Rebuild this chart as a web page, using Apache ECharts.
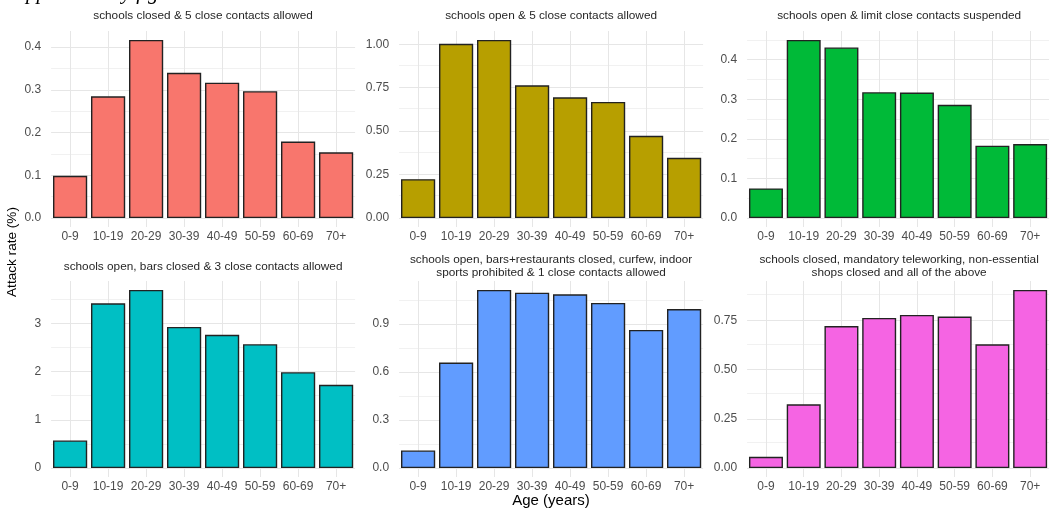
<!DOCTYPE html>
<html>
<head>
<meta charset="utf-8">
<script src="https://cdn.jsdelivr.net/npm/echarts@6/dist/echarts.min.js"></script>
<style>
  html, body { margin: 0; padding: 0; background: #ffffff; }
  #chart { width: 1049px; height: 510px; }
</style>
</head>
<body>
<div id="chart"></div>
<script>
// Age groups shared by every panel
const ageGroups = ['0-9', '10-19', '20-29', '30-39', '40-49', '50-59', '60-69', '70+'];

// Panel headings (one per intervention scenario)
const panelTitles = [
  'schools closed & 5 close contacts allowed',
  'schools open & 5 close contacts allowed',
  'schools open & limit close contacts suspended',
  'schools open, bars closed & 3 close contacts allowed',
  'schools open, bars+restaurants closed, curfew, indoor\nsports prohibited & 1 close contacts allowed',
  'schools closed, mandatory teleworking, non-essential\nshops closed and all of the above'
];

// Attack rate (%) per age group, one array per scenario
const rateClosed5 = [0.099, 0.285, 0.417, 0.340, 0.317, 0.297, 0.179, 0.154];
const rateOpen5 = [0.224, 1.003, 1.025, 0.764, 0.695, 0.668, 0.473, 0.347];
const rateOpenNoLimit = [0.075, 0.450, 0.431, 0.318, 0.317, 0.286, 0.183, 0.187];
const rateBarsClosed3 = [0.572, 3.414, 3.690, 2.924, 2.759, 2.566, 1.986, 1.724];
const rateCurfew1 = [0.110, 0.659, 1.112, 1.095, 1.085, 1.031, 0.862, 0.993];
const rateLockdown = [0.057, 0.324, 0.721, 0.762, 0.777, 0.769, 0.628, 0.904];

// Y-axis tick values and their printed labels
const ticksClosed5 = [0, 0.1, 0.2, 0.3, 0.4];
const labelsClosed5 = ['0.0', '0.1', '0.2', '0.3', '0.4'];
const ticksOpen5 = [0, 0.25, 0.5, 0.75, 1.0];
const labelsOpen5 = ['0.00', '0.25', '0.50', '0.75', '1.00'];
const ticksOpenNoLimit = [0, 0.1, 0.2, 0.3, 0.4];
const labelsOpenNoLimit = ['0.0', '0.1', '0.2', '0.3', '0.4'];
const ticksBarsClosed3 = [0, 1, 2, 3];
const labelsBarsClosed3 = ['0', '1', '2', '3'];
const ticksCurfew1 = [0, 0.3, 0.6, 0.9];
const labelsCurfew1 = ['0.0', '0.3', '0.6', '0.9'];
const ticksLockdown = [0, 0.25, 0.5, 0.75];
const labelsLockdown = ['0.00', '0.25', '0.50', '0.75'];

const panelValues = [rateClosed5, rateOpen5, rateOpenNoLimit, rateBarsClosed3, rateCurfew1, rateLockdown];
const panelTicks = [ticksClosed5, ticksOpen5, ticksOpenNoLimit, ticksBarsClosed3, ticksCurfew1, ticksLockdown];
const panelTickLabels = [labelsClosed5, labelsOpen5, labelsOpenNoLimit, labelsBarsClosed3, labelsCurfew1, labelsLockdown];
const panelColors = ['#F8766D', '#B79F00', '#00BA38', '#00BFC4', '#619CFF', '#F564E3'];

// Facet layout
const COL_LEFT = [51.1, 399.1, 747.1];
const GRID_W = 304;
const ROW_TOP = [31, 281];
const GRID_H = 196;
const TITLE_Y = [15.5, 266.5];

const FONT = '"Liberation Sans", Arial, Helvetica, sans-serif';
const MAJOR_GRID = '#e6e6e6';
const MINOR_GRID = '#f1f1f1';

const grids = [], xAxes = [], yAxes = [], series = [], graphics = [];

panelValues.forEach(function (values, i) {
  const col = i % 3, row = Math.floor(i / 3);
  const peak = Math.max.apply(null, values);
  const yMin = -0.05 * peak, yMax = 1.05 * peak;
  const ticks = panelTicks[i], labels = panelTickLabels[i];
  const step = ticks[1] - ticks[0];

  // minor breaks halfway between (and just past) the major ones
  const minors = [];
  ticks.forEach(function (t) {
    const m = t + step / 2;
    if (m < yMax) minors.push(m);
  });

  grids.push({ left: COL_LEFT[col], top: ROW_TOP[row], width: GRID_W, height: GRID_H });

  xAxes.push({
    type: 'category', gridIndex: i, data: ageGroups,
    axisLine: { show: false, onZero: false },
    axisTick: { show: false },
    splitLine: { show: false },
    axisLabel: { interval: 0, margin: 4, color: '#4d4d4d', fontSize: 12, fontFamily: FONT }
  });

  yAxes.push({
    type: 'value', gridIndex: i, min: yMin, max: yMax,
    axisLine: { show: false },
    axisTick: { show: false },
    splitLine: { show: false },
    axisLabel: {
      customValues: ticks,
      margin: 10, color: '#4d4d4d', fontSize: 12, fontFamily: FONT,
      formatter: function (v) {
        for (let k = 0; k < ticks.length; k++) {
          if (Math.abs(ticks[k] - v) < 1e-9) return labels[k];
        }
        return '';
      }
    }
  });

  // panel grid lines, drawn beneath the bars
  const gridLines = [];
  minors.forEach(function (m) {
    gridLines.push({ yAxis: m, lineStyle: { color: MINOR_GRID, width: 1, type: 'solid' } });
  });
  ticks.forEach(function (t) {
    gridLines.push({ yAxis: t, lineStyle: { color: MAJOR_GRID, width: 1, type: 'solid' } });
  });
  ageGroups.forEach(function (g) {
    gridLines.push({ xAxis: g, lineStyle: { color: MAJOR_GRID, width: 1, type: 'solid' } });
  });

  series.push({
    type: 'line', xAxisIndex: i, yAxisIndex: i, data: [], z: 1, silent: true,
    markLine: {
      z: 1, silent: true, animation: false,
      symbol: ['none', 'none'],
      label: { show: false },
      emphasis: { disabled: true },
      data: gridLines
    }
  });

  series.push({
    type: 'bar', xAxisIndex: i, yAxisIndex: i, data: values, z: 10,
    barCategoryGap: '10%',
    itemStyle: { color: panelColors[i], borderColor: '#222222', borderWidth: 1.4 },
    emphasis: { disabled: true }
  });

  graphics.push({
    type: 'text', x: COL_LEFT[col] + GRID_W / 2, y: TITLE_Y[row],
    style: {
      text: panelTitles[i], align: 'center', verticalAlign: 'middle',
      font: '11.8px ' + FONT, lineHeight: 12.7, fill: '#262626'
    }
  });
});

// shared axis titles
graphics.push({
  type: 'text', x: 551, y: 501,
  style: { text: 'Age (years)', align: 'center', verticalAlign: 'middle', font: '15px ' + FONT, fill: '#000' }
});
graphics.push({
  type: 'text', x: 12, y: 252, rotation: Math.PI / 2,
  style: { text: 'Attack rate (%)', align: 'center', verticalAlign: 'middle', font: '13.6px ' + FONT, fill: '#000' }
});
// page heading above the figure
graphics.push({
  type: 'text', x: 5, y: 4,
  style: { text: 'Supplementary figure', align: 'left', verticalAlign: 'bottom', font: 'italic 21px "Liberation Serif", "Times New Roman", serif', fill: '#000' }
});

const chart = echarts.init(document.getElementById('chart'), null, { renderer: 'canvas' });
chart.setOption({
  animation: false,
  backgroundColor: '#ffffff',
  grid: grids,
  xAxis: xAxes,
  yAxis: yAxes,
  series: series,
  graphic: graphics
});
</script>
</body>
</html>
